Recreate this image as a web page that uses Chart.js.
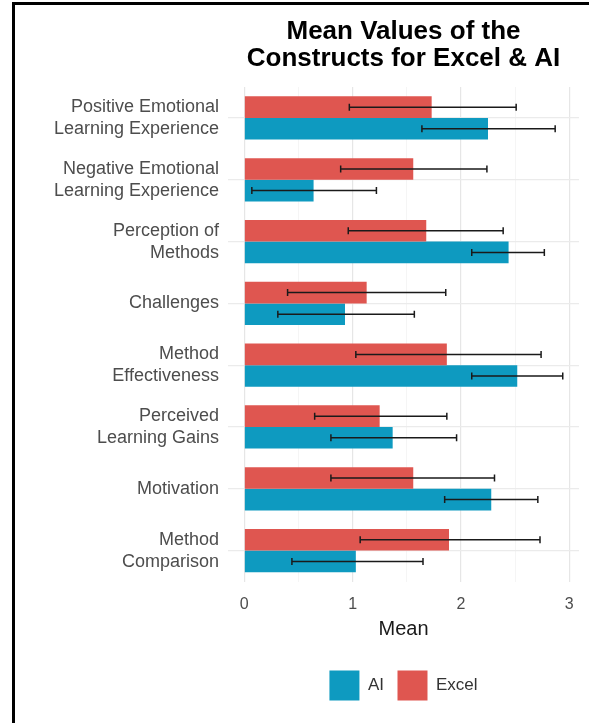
<!DOCTYPE html>
<html lang="en">
<head>
    <meta charset="UTF-8">
    <title> Mean Values of the Constructs </title>
    <style>
        body { margin: 0; background: #fff; }
        #wrap { position: relative; width: 589px; height: 723px; }
        #frame { position: absolute; left: 12px; top: 2px; width: 577px; height: 721px;
                 border-left: 3px solid #000; border-top: 3px solid #000; box-sizing: border-box; pointer-events: none; }
    </style>
</head>
<body>
    <div id="wrap">
        <canvas id="chart" width="589" height="723"></canvas>
        <div id="frame"></div>
    </div>
</body>
<script src="https://cdn.jsdelivr.net/npm/chart.js@4/dist/chart.umd.min.js"></script>
<script>
    // categories, top to bottom
    const constructs = [
        ['Positive Emotional', 'Learning Experience'],
        ['Negative Emotional', 'Learning Experience'],
        ['Perception of', 'Methods'],
        'Challenges',
        ['Method', 'Effectiveness'],
        ['Perceived', 'Learning Gains'],
        'Motivation',
        ['Method', 'Comparison']
    ]

    // means
    const excelMean = [1.73, 1.56, 1.68, 1.13, 1.87, 1.25, 1.56, 1.89]
    const aiMean    = [2.25, 0.64, 2.44, 0.93, 2.52, 1.37, 2.28, 1.03]

    // error bar ends
    const excelLow  = [0.97, 0.89, 0.96, 0.40, 1.03, 0.65, 0.80, 1.07]
    const excelHigh = [2.51, 2.24, 2.39, 1.86, 2.74, 1.87, 2.31, 2.73]
    const aiLow     = [1.64, 0.07, 2.10, 0.31, 2.10, 0.80, 1.85, 0.44]
    const aiHigh    = [2.87, 1.22, 2.77, 1.57, 2.94, 1.96, 2.71, 1.65]

    const xTicks = [0, 1, 2, 3]

    const fontFam = "'Liberation Sans', Arial, sans-serif"

    // draw error bars through the scales
    const errorBars = {
        id: 'errorBars',
        afterDatasetsDraw(chart) {
            const ctx = chart.ctx
            const xs = chart.scales.x
            chart.data.datasets.forEach((ds, i) => {
                const meta = chart.getDatasetMeta(i)
                meta.data.forEach((bar, j) => {
                    const x1 = xs.getPixelForValue(ds.errLow[j])
                    const x2 = xs.getPixelForValue(ds.errHigh[j])
                    const y = bar.y
                    ctx.save()
                    ctx.strokeStyle = '#1a1a1a'
                    ctx.lineWidth = 1.5
                    ctx.beginPath()
                    ctx.moveTo(x1, y); ctx.lineTo(x2, y)
                    ctx.moveTo(x1, y - 3.5); ctx.lineTo(x1, y + 3.5)
                    ctx.moveTo(x2, y - 3.5); ctx.lineTo(x2, y + 3.5)
                    ctx.stroke()
                    ctx.restore()
                })
            })
        }
    }

    const ctx = document.getElementById('chart').getContext('2d')
    const myChart = new Chart(ctx, {
        type: 'bar',
        data: {
            labels: constructs,
            datasets: [{
                label: 'Excel',
                data: excelMean,
                errLow: excelLow,
                errHigh: excelHigh,
                backgroundColor: '#DF5650',
                borderWidth: 0,
                categoryPercentage: 0.7,
                barPercentage: 1.0
            }, {
                label: 'AI',
                data: aiMean,
                errLow: aiLow,
                errHigh: aiHigh,
                backgroundColor: '#0E9AC0',
                borderWidth: 0,
                categoryPercentage: 0.7,
                barPercentage: 1.0
            }]
        },
        options: {
            indexAxis: 'y',
            responsive: false,
            animation: false,
            layout: { padding: { left: 0, right: 10, top: 0, bottom: 12.5 } },
            scales: {
                x: {
                    type: 'linear',
                    min: -0.15,
                    max: 3.09,
                    border: { display: false },
                    grid: {
                        drawTicks: false,
                        color: c => Number.isInteger(c.tick.value) ? '#e6e6e6' : '#f2f2f2',
                        lineWidth: c => Number.isInteger(c.tick.value) ? 1.2 : 0.8
                    },
                    ticks: {
                        stepSize: 0.5,
                        includeBounds: false,
                        padding: 13,
                        color: '#4d4d4d',
                        font: { family: fontFam, size: 16 },
                        callback: v => xTicks.includes(v) || Object.is(v, -0) ? String(Math.abs(v)) : ''
                    },
                    title: {
                        display: true,
                        text: 'Mean',
                        color: '#1a1a1a',
                        font: { family: fontFam, size: 20 },
                        padding: { top: 4, bottom: 15.5 }
                    },
                    afterFit: s => { s.height = 75.5 }
                },
                y: {
                    border: { display: false },
                    grid: { offset: false, drawTicks: false, color: '#ebebeb', lineWidth: 1.2 },
                    ticks: {
                        padding: 9,
                        color: '#4d4d4d',
                        font: { family: fontFam, size: 18, lineHeight: 1.22 }
                    },
                    afterFit: s => { s.width = 228 }
                }
            },
            plugins: {
                title: {
                    display: true,
                    fullSize: false,
                    text: ['Mean Values of the', 'Constructs for Excel & AI'],
                    color: '#000',
                    font: { family: fontFam, size: 26, weight: 'bold', lineHeight: 1.04 },
                    padding: { top: 18, bottom: 15 }
                },
                legend: {
                    position: 'bottom',
                    fullSize: false,
                    reverse: true,
                    labels: {
                        boxWidth: 30,
                        boxHeight: 30,
                        padding: 13.5,
                        color: '#333',
                        font: { family: fontFam, size: 17 }
                    }
                },
                tooltip: { enabled: false }
            }
        },
        plugins: [errorBars]
    })
</script>
</html>
